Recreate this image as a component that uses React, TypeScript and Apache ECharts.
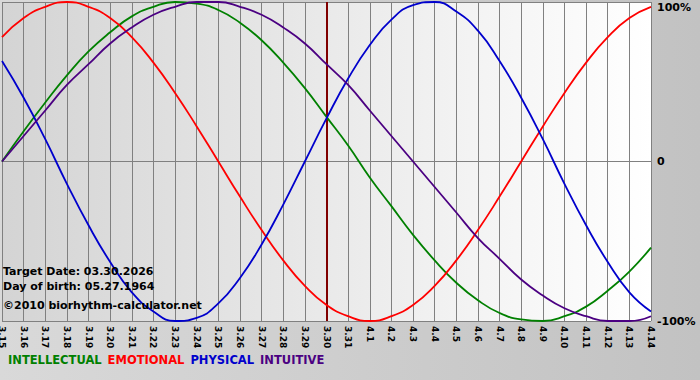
import React, { useEffect, useRef } from "react";
import * as echarts from "echarts";

const days = ["3.15","3.16","3.17","3.18","3.19","3.20","3.21","3.22","3.23","3.24","3.25","3.26","3.27","3.28","3.29","3.30","3.31","4.1","4.2","4.3","4.4","4.5","4.6","4.7","4.8","4.9","4.10","4.11","4.12","4.13","4.14"];
const intellectual = [0, 19, 37, 54, 69, 81, 91, 97, 100, 99, 95, 87, 76, 62, 46, 28, 10, -10, -28, -46, -62, -76, -87, -95, -99, -100, -97, -91, -81, -69, -54];
const emotional = [78, 90, 97, 100, 97, 90, 78, 62, 43, 22, 0, -22, -43, -62, -78, -90, -97, -100, -97, -90, -78, -62, -43, -22, 0, 22, 43, 62, 78, 90, 97];
const physical = [63, 40, 14, -14, -40, -63, -82, -94, -100, -98, -89, -73, -52, -27, 0, 27, 52, 73, 89, 98, 100, 94, 82, 63, 40, 14, -14, -40, -63, -82, -94];
const intuitive = [0, 16, 32, 48, 61, 74, 84, 92, 97, 100, 100, 97, 92, 84, 74, 61, 48, 32, 16, 0, -16, -32, -48, -61, -74, -84, -92, -97, -100, -100, -97];
const targetDay = "3.30";
const infoLines = ["Target Date: 03.30.2026", "Day of birth: 05.27.1964"];
const copyright = "©2010 biorhythm-calculator.net";

const FONT = "DejaVu Sans";

export default function App() {
  const ref = useRef<HTMLDivElement>(null);
  useEffect(() => {
    if (!ref.current) return;
    const chart = echarts.init(ref.current, null, { renderer: "svg" });
    const mk = (name: string, data: number[], color: string, extra: any = {}) => ({
      name,
      type: "line",
      data,
      smooth: true,
      showSymbol: false,
      symbol: "none",
      lineStyle: { color, width: 1.8 },
      itemStyle: { color },
      z: 3,
      ...extra,
    });
    chart.setOption({
      animation: false,
      backgroundColor: new echarts.graphic.LinearGradient(0, 0, 1, 0, [
        { offset: 0, color: "#d9d9d9" },
        { offset: 1, color: "#c2c2c2" },
      ]),
      grid: {
        left: 2,
        right: 49,
        top: 2,
        bottom: 59,
        show: true,
        borderWidth: 0,
        outerBoundsMode: "none",
        containLabel: false,
        backgroundColor: new echarts.graphic.LinearGradient(0, 0, 1, 0, [
          { offset: 0, color: "#d4d4d4" },
          { offset: 1, color: "#ffffff" },
        ]),
      },
      legend: {
        left: 3,
        top: 354,
        padding: 0,
        icon: "none",
        itemWidth: 0,
        itemHeight: 0,
        itemGap: 1,
        selectedMode: false,
        textStyle: { fontFamily: FONT, fontWeight: "bold", fontSize: 11.5 },
        data: [
          { name: "INTELLECTUAL", textStyle: { color: "#008000" } },
          { name: "EMOTIONAL", textStyle: { color: "#ff0000" } },
          { name: "PHYSICAL", textStyle: { color: "#0000cc" } },
          { name: "INTUITIVE", textStyle: { color: "#4b0082" } },
        ],
      },
      xAxis: {
        type: "category",
        data: days,
        boundaryGap: false,
        axisLine: { show: true, lineStyle: { color: "#808080", width: 1 } },
        axisTick: { show: true, length: 4, lineStyle: { color: "#808080" } },
        axisLabel: {
          rotate: -90,
          interval: 0,
          margin: 5,
          color: "#000",
          fontFamily: FONT,
          fontWeight: "bold",
          fontSize: 9,
        },
        splitLine: { show: true, lineStyle: { color: "#808080", width: 1 } },
      },
      yAxis: {
        type: "value",
        position: "right",
        min: -100,
        max: 100,
        interval: 100,
        axisLine: { show: false },
        axisTick: { show: false },
        splitLine: { show: true, lineStyle: { color: "#808080", width: 1 } },
        axisLabel: {
          margin: 6,
          color: "#000",
          fontFamily: FONT,
          fontWeight: "bold",
          fontSize: 11,
          formatter: (v: number) => (v === 100 ? "{top|100%}" : v === 0 ? "0" : v + "%"),
          rich: {
            top: {
              color: "#000",
              fontFamily: FONT,
              fontWeight: "bold",
              fontSize: 11,
              padding: [10, 0, 0, 0],
            },
          },
        },
      },
      series: [
        mk("INTELLECTUAL", intellectual, "#008000", {
          markLine: {
            silent: true,
            symbol: "none",
            label: { show: false },
            lineStyle: { color: "#800000", width: 2, type: "solid" },
            data: [{ xAxis: targetDay }],
            z: 2,
          },
        }),
        mk("EMOTIONAL", emotional, "#ff0000"),
        mk("PHYSICAL", physical, "#0000cc"),
        mk("INTUITIVE", intuitive, "#4b0082"),
      ],
      graphic: [
        {
          type: "text",
          left: 3,
          top: 264,
          z: 10,
          style: {
            text: infoLines.join("\n"),
            fill: "#000",
            font: `bold 11px "${FONT}"`,
            lineHeight: 15,
          },
        },
        {
          type: "text",
          left: 3,
          top: 300,
          z: 10,
          style: {
            text: copyright,
            fill: "#000",
            font: `bold 11px "${FONT}"`,
          },
        },
      ],
    });
    return () => chart.dispose();
  }, []);
  return <div ref={ref} style={{ width: 700, height: 380, position: "absolute", left: 0, top: 0 }} />;
}
